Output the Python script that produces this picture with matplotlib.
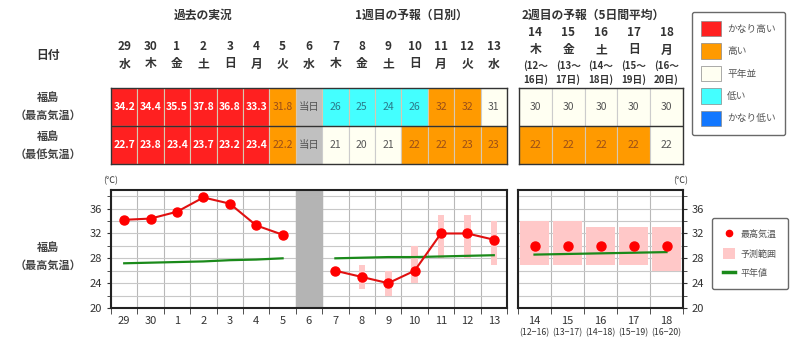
import numpy as np
import matplotlib
matplotlib.use('Agg')
import matplotlib.pyplot as plt
from matplotlib.patches import Rectangle, Patch
from matplotlib.lines import Line2D
from matplotlib.transforms import blended_transform_factory

plt.rcParams['font.family'] = ['Noto Sans CJK JP', 'DejaVu Sans']

# ---- data ----
days1 = ['29', '30', '1', '2', '3', '4', '5', '6', '7', '8', '9', '10', '11', '12', '13']
wdays1 = ['水', '木', '金', '土', '日', '月', '火', '水', '木', '金', '土', '日', '月', '火', '水']
max_txt1 = ['34.2', '34.4', '35.5', '37.8', '36.8', '33.3', '31.8', '当日', '26', '25', '24', '26', '32', '32', '31']
max_cls1 = ['vh', 'vh', 'vh', 'vh', 'vh', 'vh', 'h', 'today', 'l', 'l', 'l', 'l', 'h', 'h', 'n']
min_txt1 = ['22.7', '23.8', '23.4', '23.7', '23.2', '23.4', '22.2', '当日', '21', '20', '21', '22', '22', '23', '23']
min_cls1 = ['vh', 'vh', 'vh', 'vh', 'vh', 'vh', 'h', 'today', 'n', 'n', 'n', 'h', 'h', 'h', 'h']

days2 = ['14', '15', '16', '17', '18']
wdays2 = ['木', '金', '土', '日', '月']
period_start = ['12', '13', '14', '15', '16']
period_end = ['16', '17', '18', '19', '20']
max_txt2 = ['30', '30', '30', '30', '30']
max_cls2 = ['n', 'n', 'n', 'n', 'n']
min_txt2 = ['22', '22', '22', '22', '22']
min_cls2 = ['h', 'h', 'h', 'h', 'n']

obs_max = [34.2, 34.4, 35.5, 37.8, 36.8, 33.3, 31.8]          # 29..5
obs_normal = [27.2, 27.3, 27.4, 27.5, 27.7, 27.8, 28.0]
fc_max = [26, 25, 24, 26, 32, 32, 31]                         # 7..13
fc_lo = [np.nan, 23, 22, 24, 28, 28, 27]
fc_hi = [np.nan, 27, 26, 30, 35, 35, 34]
fc_normal = [28.0, 28.1, 28.2, 28.2, 28.3, 28.4, 28.5]
wk2_max = [30, 30, 30, 30, 30]
wk2_lo = [27, 27, 27, 27, 26]
wk2_hi = [34, 34, 33, 33, 33]
wk2_normal = [28.6, 28.7, 28.8, 28.9, 29.0]

cell_colors = {'vh': '#ff2020', 'h': '#ff9a00', 'n': '#fffff2', 'l': '#44ffff', 'today': '#c0c0c0'}
text_colors = {'vh': 'white', 'h': '#9a4e18', 'n': '#555555', 'l': '#2a7a8a', 'today': '#555555'}
legend_labels = ['かなり高い', '高い', '平年並', '低い', 'かなり低い']
legend_colors = ['#ff2020', '#ff9a00', '#fffff2', '#44ffff', '#1177ff']

W, H = 800, 339
fig = plt.figure(figsize=(W / 100, H / 100), dpi=100)


def px_axes(x0, y0, x1, y1):
    return fig.add_axes([x0 / W, 1 - y1 / H, (x1 - x0) / W, (y1 - y0) / H])


bg = fig.add_axes([0, 0, 1, 1])
bg.set_xlim(0, W)
bg.set_ylim(H, 0)
bg.axis('off')

# ---- table ----
def draw_table(ax, rows, ncol):
    ax.set_xlim(0, ncol)
    ax.set_ylim(2, 0)
    ax.set_xticks([])
    ax.set_yticks([])
    for sp in ax.spines.values():
        sp.set_color('#333333')
        sp.set_linewidth(1.0)
    for r, (txts, cls) in enumerate(rows):
        for c in range(ncol):
            k = cls[c]
            ax.add_patch(Rectangle((c, r), 1, 1, facecolor=cell_colors[k],
                                   edgecolor='#d8c8b0' if k != 'n' else '#cccccc', lw=0.8))
            ax.text(c + 0.5, r + 0.5, txts[c], ha='center', va='center',
                    color=text_colors[k], fontsize=7.5,
                    fontweight='bold' if k == 'vh' else 'normal')
    ax.axhline(1, color='#333333', lw=1.0)


t1 = px_axes(111, 88, 507, 164)
draw_table(t1, [(max_txt1, max_cls1), (min_txt1, min_cls1)], 15)
t2 = px_axes(519, 88, 683, 164)
draw_table(t2, [(max_txt2, max_cls2), (min_txt2, min_cls2)], 5)

tr1 = blended_transform_factory(t1.transData, bg.transData)
tr2 = blended_transform_factory(t2.transData, bg.transData)
hdr = dict(ha='center', va='center', fontsize=8.5, fontweight='bold', color='#333333')
for i in range(15):
    t1.text(i + 0.5, 47, days1[i], transform=tr1, **hdr)
    t1.text(i + 0.5, 64, wdays1[i], transform=tr1, **hdr)
for i in range(5):
    t2.text(i + 0.5, 32, days2[i], transform=tr2, **hdr)
    t2.text(i + 0.5, 50, wdays2[i], transform=tr2, **hdr)
    t2.text(i + 0.5, 66, '(' + period_start[i] + '～', transform=tr2,
            ha='center', va='center', fontsize=7, fontweight='bold', color='#333333')
    t2.text(i + 0.5, 80, period_end[i] + '日)', transform=tr2,
            ha='center', va='center', fontsize=7, fontweight='bold', color='#333333')

bg.text(203, 15, '過去の実況', **hdr)
bg.text(411, 15, '1週目の予報（日別）', **hdr)
bg.text(593, 15, '2週目の予報（5日間平均）', **hdr)
bg.text(48, 55, '日付', **hdr)
lab = dict(ha='center', va='center', fontsize=8, fontweight='bold', color='#444444', linespacing=1.5)
bg.text(48, 106, '福島\n（最高気温）', **lab)
bg.text(48, 145, '福島\n（最低気温）', **lab)
bg.text(48, 256, '福島\n（最高気温）', **lab)

# colour legend
handles = [Patch(facecolor=c, edgecolor='#888888', lw=0.5) for c in legend_colors]
leg1 = fig.legend(handles, legend_labels, loc='upper left',
                  bbox_to_anchor=(692 / W, 1 - 12 / H), borderaxespad=0, fontsize=7,
                  handlelength=2.1, handleheight=2.1, labelspacing=0.7,
                  handletextpad=0.6, borderpad=0.9, frameon=True, fancybox=True,
                  edgecolor='#444444', labelcolor='#555555')
leg1.get_frame().set_linewidth(1.0)

# ---- charts ----
def style_chart(ax, n):
    ax.set_xlim(-0.5, n - 0.5)
    ax.set_ylim(20, 39)
    ax.set_xticks(np.arange(n))
    ax.set_xticks(np.arange(n + 1) - 0.5, minor=True)
    ax.set_yticks([20, 24, 28, 32, 36])
    ax.set_yticks([22, 26, 30, 34, 38], minor=True)
    ax.grid(True, which='minor', axis='x', color='#b8b8b8', lw=0.8)
    ax.grid(True, which='both', axis='y', color='#c8c8c8', lw=0.8)
    ax.set_axisbelow(True)
    ax.tick_params(axis='x', which='major', length=0, labelsize=8, colors='#333333', pad=6)
    ax.tick_params(axis='x', which='minor', length=4, direction='out', color='#333333')
    ax.tick_params(axis='y', which='both', length=3, direction='out', labelsize=8, colors='#333333')
    for sp in ax.spines.values():
        sp.set_linewidth(1.5)
        sp.set_color('#222222')


a1 = px_axes(111, 190, 507, 308)
style_chart(a1, 15)
a1.set_xticklabels(days1)
a1.axvspan(6.5, 7.5, color='#b4b4b4', zorder=1.5)
x_obs = np.arange(7)
x_fc = np.arange(8, 15)
a1.bar(x_fc, np.array(fc_hi) - np.array(fc_lo), bottom=fc_lo, width=0.25,
       color='#ffc8c8', zorder=2)
a1.plot(x_obs, obs_normal, color='#1a8a1a', lw=1.6, zorder=3)
a1.plot(x_fc, fc_normal, color='#1a8a1a', lw=1.6, zorder=3)
a1.plot(x_obs, obs_max, color='#e01010', lw=1.5, marker='o', ms=6.5,
        mfc='#ff0000', mec='#ff0000', zorder=4)
a1.plot(x_fc, fc_max, color='#e01010', lw=1.5, marker='o', ms=6.5,
        mfc='#ff0000', mec='#ff0000', zorder=4)

a2 = px_axes(518, 190, 683, 308)
style_chart(a2, 5)
a2.set_xticklabels(days2)
a2.yaxis.tick_right()
a2.yaxis.set_label_position('right')
x2 = np.arange(5)
a2.bar(x2, np.array(wk2_hi) - np.array(wk2_lo), bottom=wk2_lo, width=0.88,
       color='#ffc8c8', zorder=2)
a2.plot(x2, wk2_normal, color='#1a8a1a', lw=1.6, zorder=3)
a2.plot(x2, wk2_max, ls='none', marker='o', ms=6.5, mfc='#ff0000', mec='#ff0000', zorder=4)
tr_a2 = blended_transform_factory(a2.transData, bg.transData)
for i in range(5):
    a2.text(i, 333, '(' + period_start[i] + '−' + period_end[i] + ')', transform=tr_a2,
            ha='center', va='center', fontsize=6.3, color='#333333', clip_on=False)

bg.text(111, 181, '(℃)', ha='center', va='center', fontsize=6.5, color='#333333')
bg.text(681, 181, '(℃)', ha='center', va='center', fontsize=6.5, color='#333333')

# chart legend
h2 = [Line2D([], [], ls='none', marker='o', ms=4.5, color='#ff0000'),
      Patch(facecolor='#ffc8c8', edgecolor='none'),
      Line2D([], [], color='#1a8a1a', lw=2.5)]
leg2 = fig.legend(h2, ['最高気温', '予測範囲', '平年値'], loc='upper left',
                  bbox_to_anchor=(712 / W, 1 - 218 / H), borderaxespad=0, fontsize=6.5,
                  handlelength=1.4, handleheight=1.4, labelspacing=1.0,
                  handletextpad=0.6, borderpad=1.2, frameon=True, fancybox=True,
                  edgecolor='#444444', labelcolor='#555555')
leg2.get_frame().set_linewidth(1.0)

fig.savefig('out.png', dpi=100)
